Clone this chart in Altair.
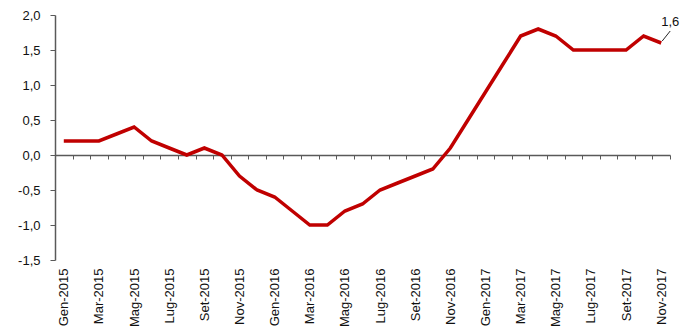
import altair as alt
import pandas as pd

months = ["Gen", "Feb", "Mar", "Apr", "Mag", "Giu", "Lug", "Ago", "Set", "Ott", "Nov", "Dic"]
years = [2015, 2016, 2017]
categories = [f"{m}-{y}" for y in years for m in months][:35]

values = [
    0.2, 0.2, 0.2, 0.3, 0.4, 0.2, 0.1, 0.0, 0.1, 0.0, -0.3, -0.5,
    -0.6, -0.8, -1.0, -1.0, -0.8, -0.7, -0.5, -0.4, -0.3, -0.2, 0.1, 0.5,
    0.9, 1.3, 1.7, 1.8, 1.7, 1.5, 1.5, 1.5, 1.5, 1.7, 1.6,
]

y_ticks = [-1.5, -1.0, -0.5, 0.0, 0.5, 1.0, 1.5, 2.0]
last_label = "1,6"

df = pd.DataFrame({"mese": categories, "valore": values})
last = pd.DataFrame({"mese": [categories[-1]], "valore": [values[-1]], "lab": [last_label]})

FONT = "Liberation Sans"
AX = "#595959"

x_enc = alt.X(
    "mese:N",
    sort=categories,
    scale=alt.Scale(domain=categories, paddingInner=0, paddingOuter=0),
    axis=alt.Axis(
        title=None,
        orient="bottom",
        offset=-105,
        tickBand="extent",
        tickSize=4,
        tickColor=AX,
        domainColor=AX,
        domainWidth=1.5,
        labelAngle=-90,
        labelPadding=109,
        labelFont=FONT,
        labelFontSize=13,
        labelColor="#111111",
        labelOverlap=False,
        labelBound=False,
        labelExpr="test(/^(Gen|Mar|Mag|Lug|Set|Nov)/, datum.label) ? datum.label : ''",
        grid=False,
    ),
)

y_scale = alt.Scale(domain=[-1.5, 2.0], nice=False, zero=False)

line = alt.Chart(df).mark_line(color="#C00000", strokeWidth=3.5, strokeJoin="miter").encode(
    x=x_enc,
    y=alt.Y(
        "valore:Q",
        scale=y_scale,
        axis=alt.Axis(
            title=None,
            values=y_ticks,
            tickCount=20,
            tickSize=5,
            tickColor=AX,
            domainColor=AX,
            domainWidth=1.5,
            labelPadding=10,
            labelFont=FONT,
            labelFontSize=13,
            labelColor="#111111",
            labelOverlap=False,
            labelBound=False,
            grid=False,
            labelExpr="(datum.value < 0 ? '-' : '') + replace(format(abs(datum.value), '.1f'), '.', ',')",
        ),
    ),
)

leader = alt.Chart(last).mark_rule(
    color="#262626", strokeWidth=1, xOffset=1, x2Offset=9, yOffset=-2, y2Offset=-12
).encode(
    x=alt.X("mese:N", sort=categories),
    x2="mese:N",
    y=alt.Y("valore:Q", scale=y_scale),
    y2="valore:Q",
)

text = alt.Chart(last).mark_text(
    font=FONT, fontSize=13, color="#111111", dx=9, dy=-17, baseline="alphabetic", align="center"
).encode(
    x=alt.X("mese:N", sort=categories),
    y=alt.Y("valore:Q", scale=y_scale),
    text="lab:N",
)

chart = (
    alt.layer(line, leader, text)
    .properties(
        width=615,
        height=245,
        autosize=alt.AutoSizeParams(type="none"),
        padding={"left": 47, "top": 7, "right": 14, "bottom": 72},
    )
    .configure_view(stroke=None)
)

chart.save("out.html", embed_options={"renderer": "svg", "actions": False})
